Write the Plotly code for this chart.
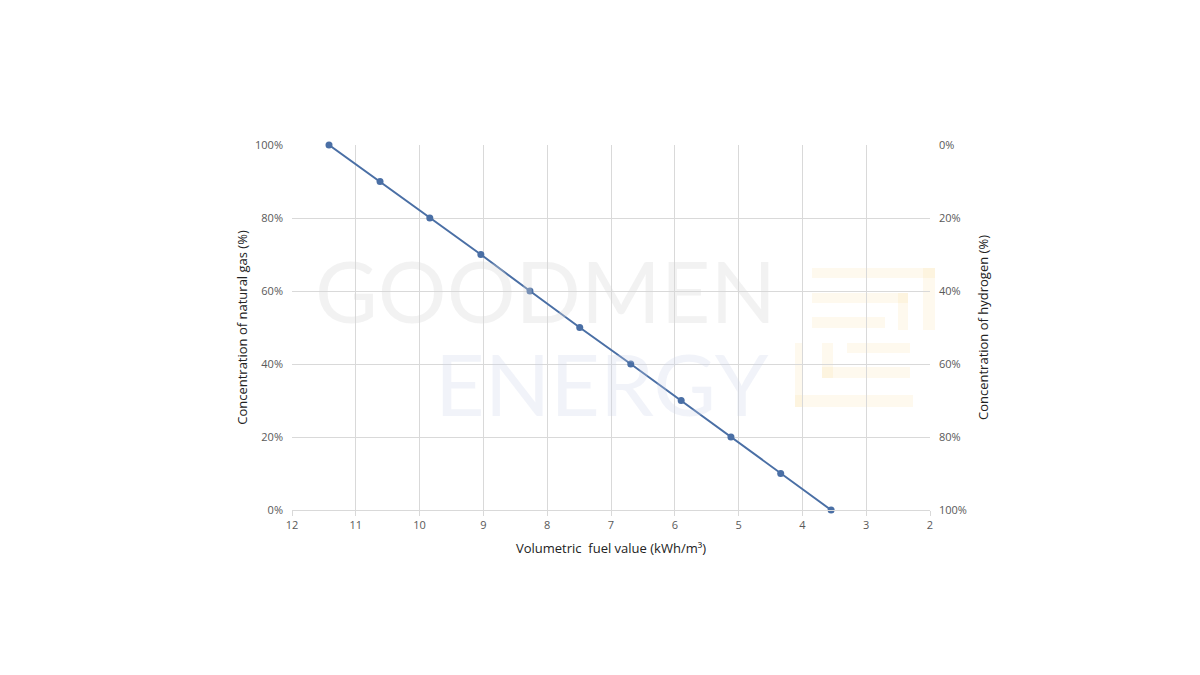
import plotly.graph_objects as go

# volumetric fuel value of the blend (kWh/m3)
fuel_value = [11.42, 10.62, 9.84, 9.04, 8.27, 7.49, 6.69, 5.90, 5.12, 4.34, 3.55]
natural_gas = [1.0, 0.9, 0.8, 0.7, 0.6, 0.5, 0.4, 0.3, 0.2, 0.1, 0.0]
hydrogen = [0.0, 0.1, 0.2, 0.3, 0.4, 0.5, 0.6, 0.7, 0.8, 0.9, 1.0]

line_col = "#4a6fa5"
grid_col = "#d9d9d9"
tick_col = "#595959"
font_name = "Open Sans"

# plot area in page pixels (page has an 8px body margin)
PL, PR, PT, PB = 292, 930, 145, 510


def px_to_paper(x, y):
    return (x - PL) / (PR - PL), (PB - y) / (PB - PT)


fig = go.Figure()
fig.add_trace(go.Scatter(
    x=fuel_value, y=natural_gas, mode="lines+markers",
    line=dict(color=line_col, width=2),
    marker=dict(color=line_col, size=7),
    cliponaxis=False, showlegend=False,
))
# invisible trace so the hydrogen axis gets drawn
fig.add_trace(go.Scatter(
    x=fuel_value, y=hydrogen, yaxis="y2", mode="lines",
    line=dict(width=0), opacity=0, showlegend=False, hoverinfo="skip",
))

# faint watermark
gx, gy = px_to_paper(545, 342)
fig.add_annotation(text="GOODMEN", x=gx, y=gy, xref="paper", yref="paper", yanchor="bottom",
                   showarrow=False, borderpad=0,
                   font=dict(family="Lato", size=86, color="rgba(215,215,215,0.32)"))
ex, ey = px_to_paper(770, 330)
fig.add_annotation(text="ENERGY", x=ex, y=ey, xref="paper", yref="paper",
                   xanchor="right", yanchor="top", showarrow=False, borderpad=0,
                   font=dict(family="Lato", size=86, color="rgba(200,210,230,0.26)"))

logo_col = "rgba(250,215,150,0.16)"
logo_blocks = [(812, 268, 935, 278), (923, 268, 935, 330), (812, 293, 908, 303),
               (898, 293, 908, 330), (812, 317, 885, 328),
               (795, 343, 802, 407), (822, 343, 833, 378), (847, 343, 910, 353),
               (822, 367, 910, 378), (795, 395, 913, 407)]
for x0, y0, x1, y1 in logo_blocks:
    a0, b0 = px_to_paper(x0, y0)
    a1, b1 = px_to_paper(x1, y1)
    fig.add_shape(type="rect", xref="paper", yref="paper", x0=a0, y0=b0, x1=a1, y1=b1,
                  fillcolor=logo_col, line=dict(width=0), layer="below")

fig.update_layout(
    width=1200, height=675,
    margin=dict(l=PL - 8, r=1200 - PR + 8, t=PT - 8, b=675 - PB + 8),
    paper_bgcolor="white", plot_bgcolor="white",
    font=dict(family=font_name, size=11, color=tick_col),
    xaxis=dict(
        range=[12, 2], dtick=1, tick0=2,
        showgrid=True, gridcolor=grid_col, gridwidth=1,
        showline=True, linecolor=grid_col, linewidth=1,
        ticks="outside", ticklen=5, tickcolor=grid_col,
        zeroline=False, mirror=False,
        title=dict(text="Volumetric  fuel value (kWh/m\u00b3)",
                   font=dict(size=13, color="#222222"), standoff=12),
    ),
    yaxis=dict(
        range=[0, 1], dtick=0.2, tickformat=".0%",
        showgrid=True, gridcolor=grid_col, zeroline=False,
        ticks="", showline=False, ticklabelstandoff=8,
        title=dict(text="Concentration of natural gas (%)",
                   font=dict(size=13, color="#222222"), standoff=4),
    ),
    yaxis2=dict(
        range=[1, 0], dtick=0.2, tickformat=".0%", overlaying="y", side="right",
        showgrid=False, zeroline=False, ticks="", showline=False, ticklabelstandoff=8,
        title=dict(text="Concentration of hydrogen (%)",
                   font=dict(size=13, color="#222222"), standoff=12),
    ),
)

fig.write_html("out.html")
